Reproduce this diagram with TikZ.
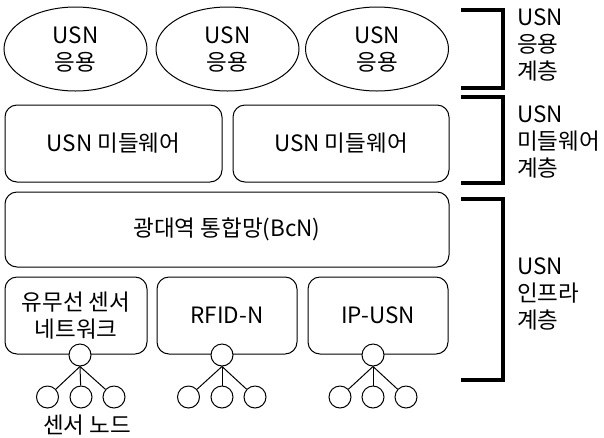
\documentclass[tikz,border=0pt]{standalone}
\usepackage{fontspec}
\setmainfont{Noto Sans CJK KR}
\usetikzlibrary{shapes.geometric}
\begin{document}
\begin{tikzpicture}[x=1pt,y=-1pt,
  txt/.style={font=\fontsize{22.5}{27}\selectfont, align=center},
  app/.style={txt, draw, line width=1pt, ellipse, minimum width=143pt, minimum height=84pt, inner sep=0pt},
  box/.style={txt, draw, line width=1pt, rounded corners=12pt, inner sep=0pt},
  dot/.style={draw, line width=1pt, circle, fill=white, minimum size=22pt, inner sep=0pt},
  link/.style={line width=1pt},
  brk/.style={line width=4.5pt},
  lbl/.style={font=\fontsize{22.5}{27}\selectfont, align=left, anchor=west, inner sep=0pt}]
\useasboundingbox (0,0) rectangle (604,437);
% application layer
\node[app] (a1) at (75.5,49) {USN\\응용};
\node[app] (a2) at (227.5,49) {USN\\응용};
\node[app] (a3) at (377,49) {USN\\응용};
% middleware
\node[box, minimum width=217pt, minimum height=77pt] (m1) at (113.5,143.5) {USN 미들웨어};
\node[box, minimum width=216pt, minimum height=77pt] (m2) at (341,143.5) {USN 미들웨어};
% BcN
\node[box, minimum width=444pt, minimum height=75pt] (bcn) at (227,229.5) {광대역 통합망(BcN)};
% networks
\node[box, minimum width=142pt, minimum height=77pt] (n1) at (76,315.5) {유무선 센서\\네트워크};
\node[box, minimum width=140pt, minimum height=77pt] (n2) at (227,315.5) {RFID-N};
\node[box, minimum width=140pt, minimum height=77pt] (n3) at (378,315.5) {IP-USN};
% sensor trees
\node[dot] (t1) at (80,355) {};
\node[dot] (s11) at (47.5,397) {};
\node[dot] (s12) at (81,397) {};
\node[dot] (s13) at (114,397) {};
\node[dot] (t2) at (222,355) {};
\node[dot] (s21) at (188.5,397) {};
\node[dot] (s22) at (222,397) {};
\node[dot] (s23) at (255,397) {};
\node[dot] (t3) at (373,355) {};
\node[dot] (s31) at (340,397) {};
\node[dot] (s32) at (373,397) {};
\node[dot] (s33) at (406,397) {};
\foreach \t/\s in {t1/s11,t1/s12,t1/s13,t2/s21,t2/s22,t2/s23,t3/s31,t3/s32,t3/s33}
  \draw[link] (\t.south) -- (\s);
\node[txt] (sn) at (87,425) {센서 노드};
% brackets
\coordinate (b1a) at (461,10); \coordinate (b1b) at (503,10);
\coordinate (b1c) at (503,88); \coordinate (b1d) at (461,88);
\draw[brk] (b1a) -- (b1b) -- (b1c) -- (b1d);
\coordinate (b2a) at (461,97); \coordinate (b2b) at (503,97);
\coordinate (b2c) at (503,183); \coordinate (b2d) at (461,183);
\draw[brk] (b2a) -- (b2b) -- (b2c) -- (b2d);
\coordinate (b3a) at (461,199); \coordinate (b3b) at (503,199);
\coordinate (b3c) at (503,380); \coordinate (b3d) at (461,380);
\draw[brk] (b3a) -- (b3b) -- (b3c) -- (b3d);
\node[lbl] (l1) at (517,45) {USN\\응용\\계층};
\node[lbl] (l2) at (517,142) {USN\\미들웨어\\계층};
\node[lbl] (l3) at (517,294) {USN\\인프라\\계층};
\end{tikzpicture}
\end{document}
